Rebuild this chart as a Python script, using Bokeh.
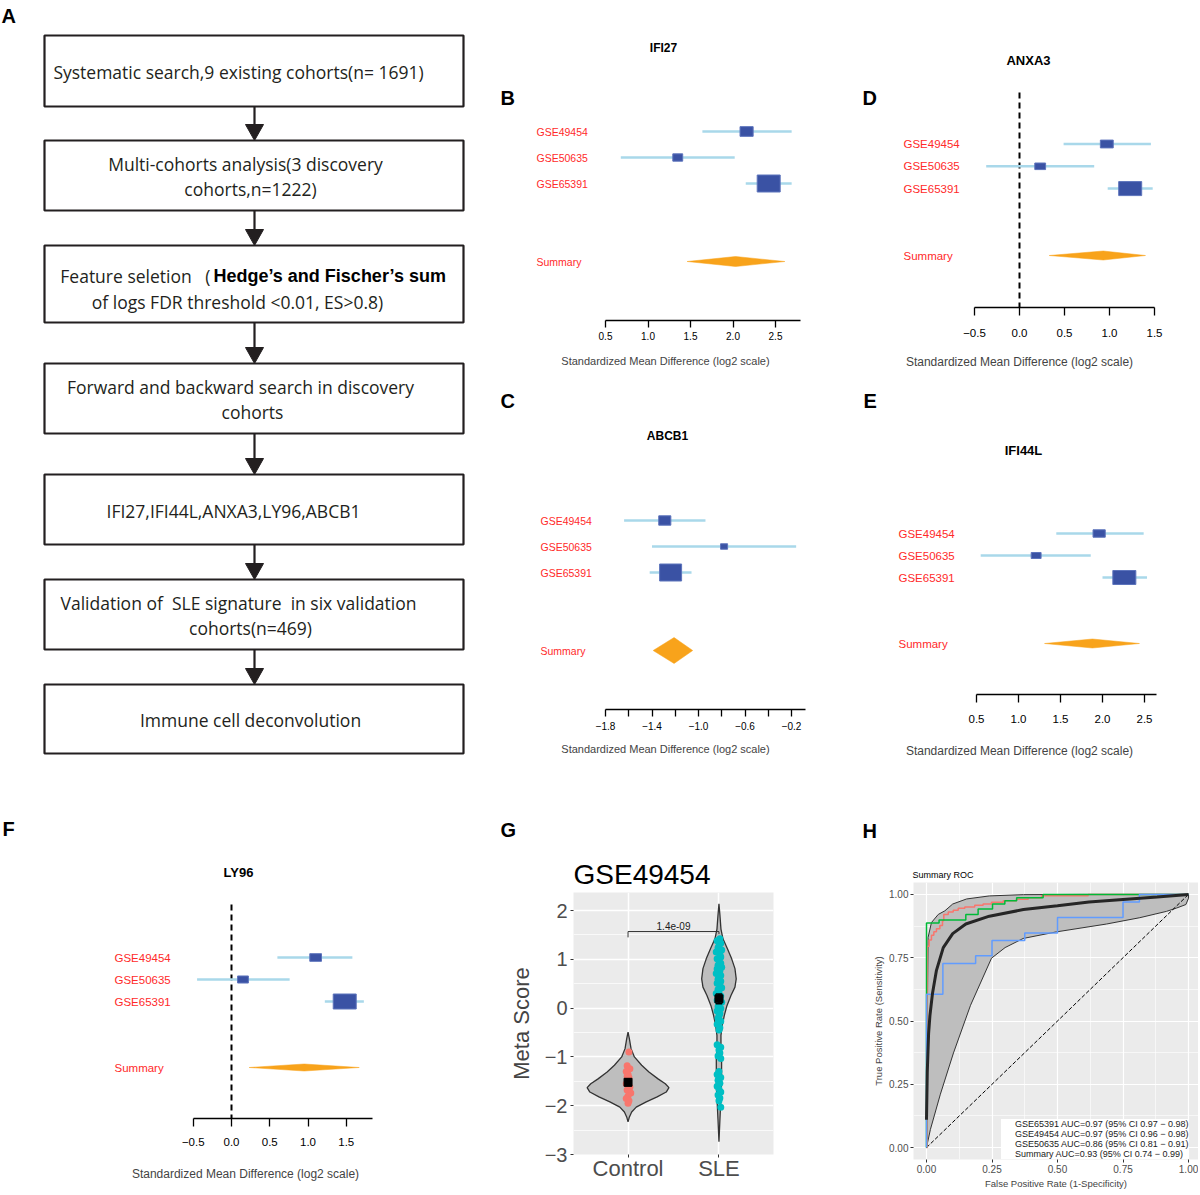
import numpy as np
from bokeh.plotting import figure
from bokeh.layouts import row, column
from bokeh.models import Range1d, FixedTicker, Label, Legend, LegendItem, Title
from bokeh.core.properties import value
from bokeh.embed import file_html
from bokeh.resources import INLINE

SANS = "Liberation Sans"
FLOW = "Open Sans"
INK = "#231F20"
NB = "\u00a0"

# ======================= DATA =======================
# Panel A: flowchart texts
flow_lines = [
    ["Systematic search,9 existing cohorts(n= 1691)"],
    ["Multi-cohorts analysis(3 discovery", "cohorts,n=1222)"],
    ["Feature seletion" + NB * 3 + "(", "of logs FDR threshold <0.01, ES>0.8)"],
    ["Forward and backward search in discovery", "cohorts"],
    ["IFI27,IFI44L,ANXA3,LY96,ABCB1"],
    ["Validation of" + NB + " SLE signature" + NB + " in six validation", "cohorts(n=469)"],
    ["Immune cell deconvolution"],
]
flow_bold = "Hedge\u2019s and Fischer\u2019s sum"

# Forest plots
cohorts = ["GSE49454", "GSE50635", "GSE65391"]
summary_label = "Summary"
axis_title = "Standardized Mean Difference (log2 scale)"

ifi27_es = [2.16, 1.35, 2.42]
ifi27_lo = [1.64, 0.68, 2.15]
ifi27_hi = [2.69, 2.02, 2.69]
ifi27_wt = [0.57, 0.43, 1.0]
ifi27_sum = [2.03, 1.46, 2.61]   # estimate, lower, upper

abcb1_es = [-1.29, -0.78, -1.24]
abcb1_lo = [-1.64, -1.40, -1.42]
abcb1_hi = [-0.94, -0.16, -1.06]
abcb1_wt = [0.55, 0.32, 1.0]
abcb1_sum = [-1.21, -1.39, -1.05]

anxa3_es = [0.97, 0.23, 1.23]
anxa3_lo = [0.49, -0.37, 0.98]
anxa3_hi = [1.46, 0.83, 1.48]
anxa3_wt = [0.56, 0.47, 1.0]
anxa3_sum = [0.93, 0.33, 1.40]

ifi44l_es = [1.96, 1.21, 2.26]
ifi44l_lo = [1.45, 0.55, 2.00]
ifi44l_hi = [2.49, 1.86, 2.53]
ifi44l_wt = [0.53, 0.43, 1.0]
ifi44l_sum = [1.88, 1.31, 2.44]

ly96_es = [1.10, 0.15, 1.48]
ly96_lo = [0.60, -0.45, 1.22]
ly96_hi = [1.58, 0.76, 1.73]
ly96_wt = [0.51, 0.47, 1.0]
ly96_sum = [0.95, 0.23, 1.67]

# Panel G: violin (GSE49454)
groups = ["Control", "SLE"]
ctrl_violin_y = [-0.49, -0.63, -0.83, -1.00, -1.17, -1.31, -1.45, -1.55, -1.63,
                 -1.72, -1.82, -1.92, -2.03, -2.13, -2.23, -2.33]
ctrl_violin_hw = [0.0, 0.015, 0.033, 0.07, 0.15, 0.23, 0.33, 0.41, 0.45,
                  0.42, 0.32, 0.20, 0.09, 0.04, 0.015, 0.0]
sle_violin_y = [2.14, 1.90, 1.62, 1.42, 1.22, 1.01, 0.81, 0.60, 0.43, 0.26, 0.05,
                -0.15, -0.35, -0.56, -0.76, -1.04, -1.38, -1.72, -1.99, -2.27, -2.74]
sle_violin_hw = [0.0, 0.011, 0.022, 0.044, 0.092, 0.14, 0.176, 0.19, 0.176, 0.132, 0.088,
                 0.059, 0.037, 0.022, 0.022, 0.029, 0.029, 0.026, 0.018, 0.011, 0.0]
ctrl_pts = [-0.90, -1.18, -1.24, -1.30, -1.36, -1.42, -1.55, -1.62, -1.68, -1.74,
            -1.80, -1.85, -1.90, -1.95, -1.40]
ctrl_dx = [0.01, -0.01, 0.02, -0.02, 0.0, 0.01, -0.02, 0.02, -0.01, 0.03,
           0.0, -0.02, 0.01, 0.0, -0.01]
sle_pts = [1.42, 1.38, 1.33, 1.28, 1.24, 1.19, 1.15, 1.10, 1.05, 1.01,
           0.97, 0.92, 0.88, 0.84, 0.80, 0.76, 0.71, 0.67, 0.63, 0.59,
           0.55, 0.51, 0.47, 0.42, 0.38, 0.34, 0.30, 0.25, 0.21, 0.16,
           0.12, 0.08, 0.03, -0.01, -0.06, -0.11, -0.16, -0.21, -0.27, -0.33,
           -0.40, -0.45, -0.75, -0.80, -0.86, -0.92, -0.98, -1.03, -1.30, -1.36,
           -1.42, -1.48, -1.54, -1.60, -1.66, -1.72, -1.78, -1.84, -1.90, -2.03]
sle_dx = [0.01, -0.02, 0.02, 0.00, -0.01, 0.03, -0.03, 0.01, 0.02, -0.02,
          0.00, 0.02, -0.01, 0.03, -0.02, 0.01, -0.03, 0.02, 0.00, -0.01,
          0.02, -0.02, 0.01, 0.03, -0.01, 0.00, -0.03, 0.02, 0.01, -0.02,
          0.03, 0.00, -0.01, 0.02, -0.02, 0.01, 0.00, -0.01, 0.02, -0.02,
          0.01, 0.00, -0.02, 0.02, 0.00, 0.01, -0.01, 0.02, 0.00, -0.02,
          0.02, -0.01, 0.01, -0.02, 0.00, 0.02, -0.01, 0.01, 0.00, 0.02]
group_mean = [-1.52, 0.19]
group_se = [0.07, 0.10]
p_text = "1.4e-09"
bracket_y = 1.57
bracket_ends = [1.45, 1.52]

# Panel H: ROC
roc_65391_x = [0, 0.003, 0.010, 0.019, 0.028, 0.038, 0.051, 0.061, 0.066, 0.083, 0.102,
               0.121, 0.146, 0.184, 0.216, 0.248, 0.293, 0.343, 0.388, 0.439, 0.617, 1.0]
roc_65391_y = [0, 0.795, 0.820, 0.839, 0.852, 0.864, 0.877, 0.896, 0.921, 0.930, 0.937,
               0.945, 0.950, 0.957, 0.962, 0.969, 0.975, 0.981, 0.987, 0.995, 1.0, 1.0]
roc_49454_x = [0, 0, 0.048, 0.150, 0.197, 0.252, 0.299, 0.344, 0.445, 1.0]
roc_49454_y = [0, 0.887, 0.899, 0.921, 0.942, 0.962, 0.975, 0.987, 1.0, 1.0]
roc_50635_x = [0, 0, 0.0625, 0.1875, 0.25, 0.375, 0.5, 0.75, 0.8125, 1.0]
roc_50635_y = [0, 0.606, 0.727, 0.758, 0.818, 0.848, 0.909, 0.970, 1.0, 1.0]
roc_sum_x = [0.0, 0.003, 0.008, 0.013, 0.023, 0.038, 0.064, 0.10, 0.15, 0.24,
             0.37, 0.50, 0.62, 0.75, 0.88, 1.0]
roc_sum_y = [0.11, 0.30, 0.45, 0.52, 0.61, 0.70, 0.79, 0.845, 0.883, 0.914,
             0.94, 0.955, 0.97, 0.98, 0.99, 1.0]
band_up_x = [0, 0.003, 0.006, 0.019, 0.045, 0.07, 0.10, 0.153, 0.24, 0.37, 0.6, 1.0]
band_up_y = [0, 0.50, 0.83, 0.889, 0.921, 0.935, 0.962, 0.982, 0.994, 0.999, 1.0, 1.0]
band_lo_x = [1.0, 0.99, 0.954, 0.916, 0.814, 0.687, 0.496, 0.369, 0.30, 0.248,
             0.168, 0.103, 0.053, 0.015, 0]
band_lo_y = [0.985, 0.96, 0.946, 0.933, 0.908, 0.883, 0.852, 0.826, 0.79, 0.748,
             0.562, 0.374, 0.211, 0.072, 0]
chance = [0, 1]
roc_labels = ["GSE65391 AUC=0.97 (95% CI 0.97 \u2212 0.98)",
              "GSE49454 AUC=0.97 (95% CI 0.96 \u2212 0.98)",
              "GSE50635 AUC=0.86 (95% CI 0.81 \u2212 0.91)",
              "Summary AUC=0.93 (95% CI 0.74 \u2212 0.99)"]
roc_colors = ["#F8766D", "#00BA38", "#619CFF", "#333333"]


def fmt_minus(v, fmt="{:.1f}"):
    return fmt.format(v).replace("-", "\u2212")


def letter(p, txt, x, y):
    p.add_layout(Label(x=x, y=y, text=txt, text_font=SANS, text_font_size="20px",
                       text_font_style="bold", text_align="left", text_baseline="middle",
                       text_color="black"))


def above_title(p, txt, size, style, offset, standoff, color="black"):
    p.add_layout(Title(text=txt, align="left", offset=offset, standoff=standoff,
                       text_font=SANS, text_font_size=size, text_font_style=style,
                       text_color=color), "above")


# ======================= PANEL A =======================
def panel_a():
    W, H = 490, 775
    p = figure(width=W, height=H, x_range=Range1d(0, W), y_range=Range1d(H, 0),
               output_backend="svg", toolbar_location=None, title=None,
               x_axis_location=None, y_axis_location=None,
               min_border_left=0, min_border_right=0, min_border_top=0, min_border_bottom=0)
    p.outline_line_color = None
    p.grid.visible = False
    box_top = [35, 140, 245, 363, 474, 579, 684]
    box_bot = [106, 210, 322, 433, 544, 649, 753]
    bl, br, ax_x = 44, 463, 254
    p.quad(left=[bl] * 7, right=[br] * 7, top=box_top, bottom=box_bot,
           fill_color=None, line_color=INK, line_width=2.2)
    head_h, head_w = 16, 18
    p.segment(x0=[ax_x] * 6, y0=box_bot[:-1], x1=[ax_x] * 6,
              y1=[t - head_h + 2 for t in box_top[1:]], line_color=INK, line_width=2.2)
    p.patches(xs=[[ax_x - head_w / 2, ax_x + head_w / 2, ax_x] for _ in box_top[1:]],
              ys=[[t - head_h, t - head_h, t] for t in box_top[1:]],
              fill_color=INK, line_color=INK, line_width=1)
    line_pos = [[(238, 71)], [(245, 163), (250, 188)], [None, (237, 301)],
                [(240, 386), (252, 411)], [(233, 510)], [(238, 602), (250, 627)], [(250, 719)]]
    xs, ys, ts = [], [], []
    for lines, poss in zip(flow_lines, line_pos):
        for t, pos in zip(lines, poss):
            if pos is None:
                continue
            xs.append(pos[0]); ys.append(pos[1]); ts.append(t)
    p.text(x=xs, y=ys, text=ts, text_align="center", text_baseline="middle",
           text_font=value(FLOW), text_font_size="17.5px", text_color=INK)
    p.text(x=[210], y=[275], text=[flow_lines[2][0]], text_align="right", text_baseline="middle",
           text_font=value(FLOW), text_font_size="17.5px", text_color=INK)
    p.text(x=[213], y=[275], text=[flow_bold], text_align="left", text_baseline="middle",
           text_font=value(SANS), text_font_size="18px", text_font_style="bold", text_color="black")
    letter(p, "A", 1, 15)
    return p


# ======================= FOREST PANELS =======================
def forest(gene, es, lo, hi, wt, summ, Lc):
    X = lambda px: Lc["ref_val"] + (px - Lc["ref_px"]) / Lc["pxu"]
    Y = lambda py: (Lc["r0"] - py) / Lc["rowpx"]
    p = figure(width=Lc["w"], height=Lc["h"],
               x_range=Range1d(X(Lc["left"]), X(Lc["left"] + Lc["w"])),
               y_range=Range1d(Y(Lc["axis"]), Y(Lc["top"])),
               output_backend="svg", toolbar_location=None, title=None,
               y_axis_location=None,
               min_border_left=0, min_border_right=0, min_border_top=0,
               min_border_bottom=Lc["top"] + Lc["h"] - Lc["axis"])
    p.outline_line_color = None
    p.grid.visible = False
    rows = [5, 4, 3]
    if Lc["dash_top"] is not None:
        p.segment(x0=[0], y0=[Y(Lc["dash_top"])], x1=[0], y1=[Y(Lc["axis"])],
                  line_color="black", line_width=2, line_dash="6 4")
    p.segment(x0=lo, y0=rows, x1=hi, y1=rows, line_color="#A9D8EA", line_width=2.5)
    bw, bh = Lc["box"]
    p.rect(x=es, y=rows, width=[w * bw / Lc["pxu"] for w in wt],
           height=[w * bh / Lc["rowpx"] for w in wt],
           fill_color="#3A52A4", line_color="#5D74BC", line_width=1)
    s_est, s_lo, s_hi = summ
    dh = Lc["dh"] / Lc["rowpx"]
    p.patch(x=[s_lo, s_est, s_hi, s_est], y=[0, dh, 0, -dh],
            fill_color="#F8A31B", line_color="#F8A31B", line_width=0.5)
    p.text(x=[X(Lc["lab_x"])] * 4, y=rows + [0], text=cohorts + [summary_label],
           text_color="#FF2A2A", text_font=value(SANS), text_font_size=f"{Lc['lab_size']}px",
           text_baseline="middle", text_align="left")
    p.add_layout(Label(x=X(Lc["title"][0]), y=Y(Lc["title"][1]), text=gene, text_font=SANS,
                       text_font_size=f"{Lc['title_size']}px", text_font_style="bold",
                       text_align="center", text_baseline="middle", text_color="black"))
    lt = Lc["letter"]
    letter(p, lt[0], X(lt[1]), Y(lt[2]))
    ax = p.xaxis[0]
    ax.ticker = FixedTicker(ticks=Lc["ticks"], minor_ticks=Lc.get("minor", []))
    ax.major_label_overrides = {t: fmt_minus(t) for t in Lc["ticks"]}
    ax.bounds = Lc["bounds"]
    ax.axis_line_color = "black"
    ax.axis_line_width = 1.3
    ax.major_tick_line_color = "black"
    ax.major_tick_line_width = 1.3
    ax.major_tick_out = Lc["tick_out"]
    ax.major_tick_in = 0
    ax.minor_tick_out = Lc["tick_out"]
    ax.minor_tick_in = 0
    ax.minor_tick_line_width = 1.3
    ax.minor_tick_line_color = "black" if Lc.get("minor") else None
    ax.major_label_text_font = SANS
    ax.major_label_text_font_size = f"{Lc['tick_size']}px"
    ax.major_label_text_color = "black"
    ax.major_label_standoff = Lc["tick_standoff"]
    ax.axis_label = axis_title
    ax.axis_label_text_font = SANS
    ax.axis_label_text_font_style = "normal"
    ax.axis_label_text_font_size = f"{Lc['xlab_size']}px"
    ax.axis_label_standoff = Lc["xlab_standoff"]
    return p


LAY_B = dict(left=490, top=0, w=350, h=385, ref_val=0.5, ref_px=605, pxu=85.0, r0=261, rowpx=26.0,
             axis=320, lab_x=536, title=(663, 47), title_size=12, lab_size=10.5, tick_size=10,
             xlab_size=11, tick_out=7, tick_standoff=4, xlab_standoff=12, box=(23, 17), dh=5,
             dash_top=None, letter=("B", 500, 97), ticks=[0.5, 1.0, 1.5, 2.0, 2.5], bounds=(0.5, 2.79))
LAY_C = dict(left=490, top=385, w=350, h=390, ref_val=-1.8, ref_px=605, pxu=116.25, r0=650, rowpx=26.0,
             axis=709, lab_x=540, title=(667, 435), title_size=12, lab_size=10.5, tick_size=10,
             xlab_size=11, tick_out=7, tick_standoff=5, xlab_standoff=10, box=(22, 17), dh=13,
             dash_top=None, letter=("C", 500, 400), ticks=[-1.8, -1.4, -1.0, -0.6, -0.2],
             minor=[-1.6, -1.2, -0.8, -0.4], bounds=(-1.8, -0.08))
LAY_D = dict(left=840, top=0, w=358, h=385, ref_val=0.0, ref_px=1019, pxu=90.0, r0=255, rowpx=22.3,
             axis=307, lab_x=903, title=(1028, 60), title_size=13, lab_size=11.5, tick_size=11.5,
             xlab_size=12, tick_out=8, tick_standoff=13, xlab_standoff=15, box=(23, 14), dh=4.5,
             dash_top=92, letter=("D", 862, 97), ticks=[-0.5, 0.0, 0.5, 1.0, 1.5], bounds=(-0.5, 1.5))
LAY_E = dict(left=840, top=385, w=358, h=390, ref_val=0.5, ref_px=976, pxu=84.0, r0=643, rowpx=22.0,
             axis=694, lab_x=898, title=(1023, 450), title_size=13, lab_size=11.5, tick_size=11.5,
             xlab_size=12, tick_out=8, tick_standoff=12, xlab_standoff=18, box=(23, 14), dh=4.5,
             dash_top=None, letter=("E", 863, 400), ticks=[0.5, 1.0, 1.5, 2.0, 2.5], bounds=(0.5, 2.64))
LAY_F = dict(left=0, top=775, w=490, h=418, ref_val=0.0, ref_px=231, pxu=76.5, r0=1067, rowpx=22.0,
             axis=1118, lab_x=114, title=(238, 872), title_size=13, lab_size=11.5, tick_size=11.5,
             xlab_size=12, tick_out=8, tick_standoff=11, xlab_standoff=18, box=(23, 15), dh=3.5,
             dash_top=904, letter=("F", 2, 828), ticks=[-0.5, 0.0, 0.5, 1.0, 1.5], bounds=(-0.5, 1.84))


# ======================= PANEL G =======================
def panel_g():
    p = figure(width=350, height=418, x_range=Range1d(0.4, 2.6), y_range=Range1d(-3.0, 2.37),
               output_backend="svg", toolbar_location=None, title=None,
               min_border_left=83, min_border_right=67, min_border_top=117, min_border_bottom=39)
    p.background_fill_color = "#EBEBEB"
    p.outline_line_color = None
    p.ygrid.ticker = FixedTicker(ticks=[-3, -2, -1, 0, 1, 2], minor_ticks=[-2.5, -1.5, -0.5, 0.5, 1.5])
    p.ygrid.grid_line_color = "white"
    p.ygrid.grid_line_width = 1.5
    p.ygrid.minor_grid_line_color = "white"
    p.ygrid.minor_grid_line_width = 0.7
    p.xgrid.ticker = FixedTicker(ticks=[1, 2])
    p.xgrid.grid_line_color = "white"
    p.xgrid.grid_line_width = 1.5

    for c, vy, hw in [(1, ctrl_violin_y, ctrl_violin_hw), (2, sle_violin_y, sle_violin_hw)]:
        xs = [c + w for w in hw] + [c - w for w in reversed(hw)]
        ys = list(vy) + list(reversed(vy))
        p.patch(xs, ys, fill_color="#BEBEBE", line_color="#333333", line_width=1.3)
    p.scatter(x=[1 + d for d in ctrl_dx], y=ctrl_pts, size=7, fill_color="#F8766D", line_color=None)
    p.scatter(x=[2 + d for d in sle_dx], y=sle_pts, size=7, fill_color="#00BFC4", line_color=None)
    cx = [1, 2]
    lo = [m - s for m, s in zip(group_mean, group_se)]
    hi = [m + s for m, s in zip(group_mean, group_se)]
    p.segment(x0=cx, y0=lo, x1=cx, y1=hi, line_color="black", line_width=1.5)
    cap = 0.035
    p.segment(x0=[c - cap for c in cx], y0=lo, x1=[c + cap for c in cx], y1=lo, line_color="black", line_width=1.5)
    p.segment(x0=[c - cap for c in cx], y0=hi, x1=[c + cap for c in cx], y1=hi, line_color="black", line_width=1.5)
    p.scatter(x=cx, y=group_mean, marker="square", size=8, fill_color="black", line_color="black")
    p.line(x=[1, 1, 2, 2], y=[bracket_ends[0], bracket_y, bracket_y, bracket_ends[1]],
           line_color="#333333", line_width=1)
    p.text(x=[1.5], y=[bracket_y + 0.12], text=[p_text], text_align="center", text_baseline="middle",
           text_font=value(SANS), text_font_size="10px", text_color="#1a1a1a")
    above_title(p, "GSE49454", "28px", "normal", 0, 6)
    above_title(p, "G", "20px", "bold", -73, 26)

    ya = p.yaxis[0]
    ya.ticker = FixedTicker(ticks=[-3, -2, -1, 0, 1, 2])
    ya.major_label_overrides = {t: fmt_minus(t, "{:d}") for t in [-3, -2, -1, 0, 1, 2]}
    xa = p.xaxis[0]
    xa.ticker = FixedTicker(ticks=[1, 2])
    xa.major_label_overrides = {1: groups[0], 2: groups[1]}
    for a, size in [(ya, "20px"), (xa, "22px")]:
        a.axis_line_color = None
        a.major_tick_out = 3
        a.major_tick_in = 0
        a.major_tick_line_color = "#333333"
        a.minor_tick_line_color = None
        a.major_label_text_font = SANS
        a.major_label_text_font_size = size
        a.major_label_text_color = "#4D4D4D"
        a.major_label_standoff = 3
    xa.major_label_standoff = -2
    ya.axis_label = "Meta Score"
    ya.axis_label_text_font = SANS
    ya.axis_label_text_font_size = "22px"
    ya.axis_label_text_font_style = "normal"
    ya.axis_label_standoff = 8
    return p


# ======================= PANEL H =======================
def panel_h():
    xr = Range1d(-0.0496, 1.038)
    yr = Range1d(-0.047, 1.047)
    p = figure(width=358, height=418, x_range=xr, y_range=yr,
               output_backend="svg", toolbar_location=None, title=None,
               min_border_left=73, min_border_right=0, min_border_top=107, min_border_bottom=34)
    p.background_fill_color = "#EBEBEB"
    p.outline_line_color = None
    ticks = [0, 0.25, 0.5, 0.75, 1.0]
    minor = [0.125, 0.375, 0.625, 0.875]
    for g in (p.xgrid[0], p.ygrid[0]):
        g.ticker = FixedTicker(ticks=ticks, minor_ticks=minor)
        g.grid_line_color = "white"
        g.grid_line_width = 1.2
        g.minor_grid_line_color = "white"
        g.minor_grid_line_width = 0.6
    p.patch(band_up_x + band_lo_x, band_up_y + band_lo_y, fill_color="#BEBEBE",
            line_color="#333333", line_width=1)
    p.line(chance, chance, line_color="black", line_width=1, line_dash="4 2")
    p.step(roc_65391_x, roc_65391_y, mode="after", line_color=roc_colors[0], line_width=1.5)
    p.step(roc_49454_x, roc_49454_y, mode="after", line_color=roc_colors[1], line_width=1.5)
    p.step(roc_50635_x, roc_50635_y, mode="after", line_color=roc_colors[2], line_width=1.5)
    p.line(roc_sum_x, roc_sum_y, line_color="#262626", line_width=3)

    items = []
    for lab, col in zip(roc_labels, roc_colors):
        r = p.rect(x=[], y=[], width=0.01, height=0.01, fill_color=col, line_color=None)
        items.append(LegendItem(label=lab, renderers=[r]))
    leg = Legend(items=items, location=(88, 0), background_fill_color="white", background_fill_alpha=1,
                 border_line_color=None, label_text_font=SANS, label_text_font_size="9px",
                 label_text_color="#1a1a1a", glyph_width=10, glyph_height=5, label_height=9,
                 spacing=0, padding=6, margin=0, label_standoff=4)
    p.add_layout(leg)

    above_title(p, "Summary ROC", "9px", "normal", -1, 6)
    above_title(p, "H", "20px", "bold", -51, 46)

    for a in (p.xaxis[0], p.yaxis[0]):
        a.ticker = FixedTicker(ticks=ticks)
        a.major_label_overrides = {t: "{:.2f}".format(t) for t in ticks}
        a.axis_line_color = None
        a.major_tick_out = 3
        a.major_tick_in = 0
        a.major_tick_line_color = "#333333"
        a.minor_tick_line_color = None
        a.major_label_text_font = SANS
        a.major_label_text_font_size = "10px"
        a.major_label_text_color = "#4D4D4D"
        a.major_label_standoff = 2
        a.axis_label_text_font = SANS
        a.axis_label_text_font_size = "9.5px"
        a.axis_label_text_font_style = "normal"
        a.axis_label_standoff = 2
    p.xaxis[0].axis_label = "False Positive Rate (1-Specificity)"
    p.yaxis[0].axis_label = "True Positive Rate (Sensitivity)"
    return p


pa = panel_a()
pb = forest("IFI27", ifi27_es, ifi27_lo, ifi27_hi, ifi27_wt, ifi27_sum, LAY_B)
pc = forest("ABCB1", abcb1_es, abcb1_lo, abcb1_hi, abcb1_wt, abcb1_sum, LAY_C)
pd = forest("ANXA3", anxa3_es, anxa3_lo, anxa3_hi, anxa3_wt, anxa3_sum, LAY_D)
pe = forest("IFI44L", ifi44l_es, ifi44l_lo, ifi44l_hi, ifi44l_wt, ifi44l_sum, LAY_E)
pf = forest("LY96", ly96_es, ly96_lo, ly96_hi, ly96_wt, ly96_sum, LAY_F)
pg = panel_g()
ph = panel_h()

layout = column(row(pa, column(pb, pc), column(pd, pe)),
                row(column(pf), column(pg), column(ph)))
open("out.html", "w").write(file_html(layout, INLINE))
